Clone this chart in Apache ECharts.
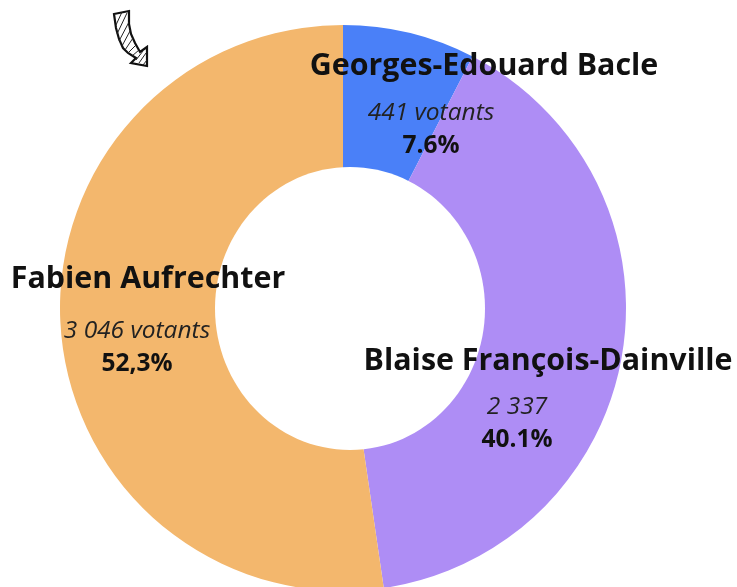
<!DOCTYPE html>
<html>
<head>
<meta charset="utf-8">
<title>Votes</title>
<style>
    html, body { margin: 0; padding: 0; background: #fff; }
    #chart { width: 737px; height: 587px; filter: blur(0.5px); }
</style>
<script src="https://cdn.jsdelivr.net/npm/echarts@6/dist/echarts.min.js"></script>
</head>
<body>
<div id="chart"></div>
<script>
var candidates = ['Georges-Edouard Bacle', 'Blaise François-Dainville', 'Fabien Aufrechter'];
var votes = [441, 2337, 3046];
var voteLabels = ['441 votants', '2 337', '3 046 votants'];
var shareLabels = ['7.6%', '40.1%', '52,3%'];
var colors = ['#4a80f8', '#ae8df5', '#f3b76d'];

;(function () {

    'use strict';

    // label blocks are placed by hand, names and figures are not centred on each other
    var nameSpots = [[484, 66], [548, 361], [148, 279]];
    var figureSpots = [[431, 130], [517, 424], [137, 348]];

    var pieCenter = [343, 308];
    var pieRadius = [120, 283];

    // the slices, without any label
    var sliceSeries = {
        type: 'pie',
        z: 1,
        center: pieCenter,
        radius: pieRadius,
        startAngle: 90,
        silent: true,
        label: { show: false },
        labelLine: { show: false },
        data: candidates.map(function (name, i) {
            return { name: name, value: votes[i], itemStyle: { color: colors[i] } };
        })
    };

    // invisible copy of the slices that only carries a set of labels above the hole
    var labelSeries = function (spots, formatter) {
        return {
            type: 'pie',
            z: 3,
            center: pieCenter,
            radius: pieRadius,
            startAngle: 90,
            silent: true,
            itemStyle: { color: 'rgba(0,0,0,0)' },
            labelLine: { show: false },
            label: {
                show: true,
                position: 'inside',
                align: 'center',
                formatter: function (params) {
                    return formatter(params.dataIndex);
                },
                rich: {
                    name: { fontFamily: '"Open Sans"', fontSize: 30.4, fontWeight: 700, color: '#111' },
                    votes: { fontFamily: '"Open Sans"', fontSize: 24.5, fontStyle: 'italic', color: '#222', lineHeight: 33, align: 'center' },
                    share: { fontFamily: '"Open Sans"', fontSize: 24.5, fontWeight: 700, color: '#111', lineHeight: 33, align: 'center' }
                }
            },
            labelLayout: function (params) {
                return {
                    x: spots[params.dataIndex][0],
                    y: spots[params.dataIndex][1],
                    align: 'center',
                    verticalAlign: 'middle'
                };
            },
            data: candidates.map(function (name, i) {
                return { name: name, value: votes[i] };
            })
        };
    };

    var hole = {
        type: 'ellipse',
        z: 2,
        shape: { cx: 350, cy: 308.5, rx: 135, ry: 141.5 },
        style: { fill: '#fff' }
    };

    // the hand drawn arrow, top left
    var arrowOutline = [[114, 14], [129, 11], [129, 24], [131, 34], [135, 43], [140, 52], [147, 47], [147, 66], [131, 63], [136, 58], [128, 53], [123, 48], [119, 39], [116, 28]];
    var arrowHatch = [
        [[116, 25], [122, 12]], [[117, 34], [127, 13]], [[119, 41], [129, 22]], [[122, 46], [130, 31]],
        [[125, 50], [133, 38]], [[128, 53], [136, 45]], [[132, 56], [139, 50]], [[136, 60], [143, 51]],
        [[139, 63], [146, 53]], [[143, 65], [147, 60]]
    ];

    var graphics = [hole, {
        type: 'polygon',
        shape: { points: arrowOutline },
        style: { fill: '#fff', stroke: '#111', lineWidth: 2.2 }
    }];
    arrowHatch.forEach(function (pts) {
        graphics.push({
            type: 'line',
            shape: { x1: pts[0][0], y1: pts[0][1], x2: pts[1][0], y2: pts[1][1] },
            style: { stroke: '#222', lineWidth: 1 }
        });
    });

    var myChart = echarts.init(document.getElementById('chart'), null, { renderer: 'canvas' });
    myChart.setOption({
        animation: false,
        backgroundColor: '#ffffff',
        series: [
            sliceSeries,
            labelSeries(nameSpots, function (i) {
                return '{name|' + candidates[i] + '}';
            }),
            labelSeries(figureSpots, function (i) {
                return '{votes|' + voteLabels[i] + '}\n{share|' + shareLabels[i] + '}';
            })
        ],
        graphic: { elements: graphics }
    });

}());
</script>
</body>
</html>
